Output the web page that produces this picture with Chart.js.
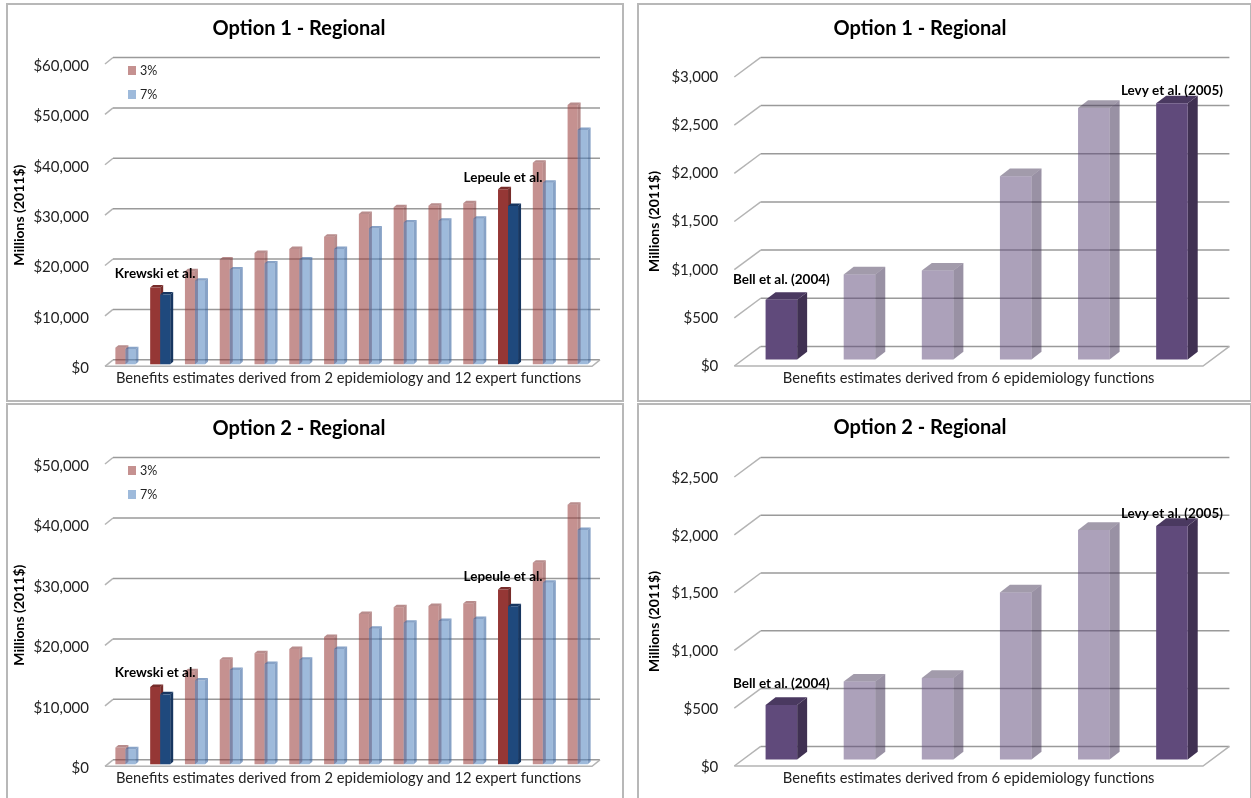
<!DOCTYPE html>
<html>
<head>
<meta charset="utf-8">
<title>Regional benefits estimates</title>
<script src="https://cdn.jsdelivr.net/npm/chart.js@4/dist/chart.umd.min.js"></script>
<style>
  html, body { margin: 0; padding: 0; background: #fff; overflow: hidden; }
  canvas { position: absolute; outline: 2px solid #b8b8b8; outline-offset: -2px; }
</style>
</head>
<body>
<canvas id="opt1Pm"></canvas>
<canvas id="opt1Ozone"></canvas>
<canvas id="opt2Pm"></canvas>
<canvas id="opt2Ozone"></canvas>
<script>
// 14 functions for the left charts, 6 for the right ones
const pmCategories = ["1", "2", "3", "4", "5", "6", "7", "8", "9", "10", "11", "12", "13", "14"];
const ozoneCategories = ["1", "2", "3", "4", "5", "6"];

const opt1Pm3 = [3300, 15240, 18490, 20800, 22100, 22900, 25300, 29820, 31150, 31480, 31950, 34730, 40000, 51490];
const opt1Pm7 = [3000, 13850, 16570, 18800, 20000, 20800, 22900, 26970, 28160, 28500, 28900, 31410, 36050, 46520];
const opt2Pm3 = [2770, 12790, 15390, 17280, 18380, 19050, 21040, 24860, 25970, 26190, 26580, 28900, 33340, 42910];
const opt2Pm7 = [2490, 11570, 13840, 15610, 16610, 17280, 19050, 22430, 23420, 23700, 24030, 26130, 30020, 38750];
const opt1Ozone = [619, 882, 923, 1902, 2611, 2659];
const opt2Ozone = [471, 674, 705, 1445, 1985, 2020];

// the functions that get a solid bar and a name above it
const pmCallouts = [[1, "Krewski et al."], [11, "Lepeule et al."]];
const ozoneCallouts = [[0, "Bell et al. (2004)"], [5, "Levy et al. (2005)"]];

const FONT = "Lato, 'Open Sans', sans-serif";

const redFaces = {
  solid: { front: "#953735", side: "#772c2a", top: "#772c2a" },
  soft: { front: "rgba(149,55,53,.55)", side: "rgba(125,45,45,.55)", top: "rgba(125,45,45,.55)" }
};
const blueFaces = {
  solid: { front: "#1f497d", side: "#173660", top: "#173660" },
  soft: { front: "rgba(79,129,189,.55)", side: "rgba(55,100,160,.6)", top: "rgba(55,100,160,.6)" }
};
const purpleFaces = {
  solid: { front: "#604a7b", side: "#403152", top: "#4a3960" },
  soft: { front: "rgba(96,74,123,.52)", side: "rgba(60,45,80,.52)", top: "rgba(60,45,80,.48)" }
};

function drawBarFaces(ctx, meta, faces, d, e) {
  meta.data.forEach((bar, i) => {
    const { x, y, base, width } = bar.getProps(["x", "y", "base", "width"], true);
    const l = x - width / 2;
    const r = x + width / 2;
    ctx.fillStyle = faces[i].side;
    ctx.beginPath();
    ctx.moveTo(r, y);
    ctx.lineTo(r + d, y - e);
    ctx.lineTo(r + d, base - e);
    ctx.lineTo(r, base);
    ctx.closePath();
    ctx.fill();
    ctx.fillStyle = faces[i].top;
    ctx.beginPath();
    ctx.moveTo(l, y);
    ctx.lineTo(l + d, y - e);
    ctx.lineTo(r + d, y - e);
    ctx.lineTo(r, y);
    ctx.closePath();
    ctx.fill();
  });
}

// Fakes the Excel style 3D look: back wall gridlines, floor, bar side and top faces
const depthPlugin = {
  id: "depth",
  beforeDatasetsDraw(chart, args, opts) {
    const { ctx, chartArea: a, scales: { y } } = chart;
    ctx.save();
    ctx.lineWidth = 1.5;
    y.ticks.forEach(t => {
      const py = y.getPixelForValue(t.value);
      ctx.strokeStyle = "#b4b4b4";
      ctx.beginPath();
      ctx.moveTo(a.left, py);
      ctx.lineTo(a.left + opts.wallX, py - opts.wallY);
      ctx.stroke();
      ctx.strokeStyle = "#9a9a9a";
      ctx.beginPath();
      ctx.moveTo(a.left + opts.wallX, py - opts.wallY);
      ctx.lineTo(a.right + opts.wallX, py - opts.wallY);
      ctx.stroke();
    });
    // front edge of the floor
    ctx.strokeStyle = "#b4b4b4";
    ctx.beginPath();
    ctx.moveTo(a.left, a.bottom);
    ctx.lineTo(a.right, a.bottom);
    ctx.lineTo(a.right + opts.wallX, a.bottom - opts.wallY);
    ctx.stroke();
    ctx.restore();

    // bars stand in the middle of the floor, not on its front edge.
    // Chart.js paints the last dataset first, here the right hand bar has to cover the left one
    ctx.save();
    ctx.translate(opts.shiftX, -opts.shiftY);
    chart.data.datasets.forEach((ds, i) => {
      const meta = chart.getDatasetMeta(i);
      drawBarFaces(ctx, meta, ds.faces, opts.barX, opts.barY);
      meta.controller.draw();
    });
    ctx.restore();
    return false;
  }
};

// Inline legend in the top left of the plot and the names above the solid bars
const notesPlugin = {
  id: "notes",
  afterDraw(chart, args, opts) {
    const { ctx, chartArea: a } = chart;
    ctx.save();
    ctx.textBaseline = "middle";
    if (opts.legend) {
      ctx.font = "12.5px " + FONT;
      chart.data.datasets.forEach((ds, i) => {
        const top = a.top + 2 + i * 24;
        ctx.fillStyle = ds.faces.find(f => f.front.startsWith("rgba")).front;
        ctx.fillRect(a.left + 23, top, 8, 9);
        ctx.fillStyle = "#222";
        ctx.textAlign = "left";
        ctx.fillText(ds.label, a.left + 35, top + 5);
      });
    }
    ctx.font = "bold 13.5px " + FONT;
    ctx.fillStyle = "#000";
    ctx.textAlign = "center";
    opts.callouts.forEach(([idx, text], n) => {
      const bar = chart.getDatasetMeta(0).data[idx];
      const { x, y, width } = bar.getProps(["x", "y", "width"], true);
      const groupX = chart.data.datasets.length > 1 ? x + width / 2 - 5 : x;
      ctx.fillText(text, groupX + opts.depth.shiftX, y - opts.depth.shiftY - opts.lifts[n]);
    });
    ctx.restore();
  }
};

function makeFaces(values, callouts, palette) {
  return values.map((v, i) => callouts.some(c => c[0] === i) ? palette.solid : palette.soft);
}

function makeDataset(label, values, callouts, palette) {
  const faces = makeFaces(values, callouts, palette);
  return { label, data: values, faces, backgroundColor: faces.map(f => f.front) };
}

function drawPanel(id, p) {
  const canvas = document.getElementById(id);
  canvas.style.left = p.x + "px";
  canvas.style.top = p.y + "px";
  canvas.width = p.w;
  canvas.height = p.h;

  const xTitleH = 15 + 5;
  new Chart(canvas, {
    type: "bar",
    data: { labels: p.categories, datasets: p.datasets },
    plugins: [depthPlugin, notesPlugin],
    options: {
      responsive: false,
      animation: false,
      layout: { padding: { left: 0, top: 0, right: p.x + p.w - p.right, bottom: p.y + p.h - p.bottom - xTitleH } },
      datasets: { bar: { categoryPercentage: p.barShare, barPercentage: 1 } },
      plugins: {
        legend: { display: false },
        tooltip: { enabled: false },
        title: {
          display: true,
          text: p.title,
          color: "#000",
          font: { family: FONT, size: 20, weight: "bold", lineHeight: 1 },
          padding: { top: p.titleTop, bottom: p.top - p.y - p.titleTop - 20 }
        },
        depth: p.depth,
        notes: { legend: p.datasets.length > 1, callouts: p.callouts, lifts: p.lifts, depth: p.depth }
      },
      scales: {
        x: {
          grid: { display: false, drawTicks: false },
          border: { display: false },
          ticks: { display: false },
          title: {
            display: true,
            text: p.xTitle,
            color: "#222",
            font: { family: FONT, size: 14.7, lineHeight: 1 },
            padding: { top: 5, bottom: 0 }
          }
        },
        y: {
          min: 0,
          max: p.max,
          afterFit(scale) { scale.width = p.left - p.x; },
          grid: { display: false, drawTicks: false },
          border: { display: false },
          ticks: {
            stepSize: p.step,
            padding: 16,
            labelOffset: p.tickDrop,
            color: "#222",
            font: { family: FONT, size: 15 },
            callback: v => "$" + v.toLocaleString("en-US")
          },
          title: {
            display: true,
            text: "Millions (2011$)",
            color: "#000",
            font: { family: FONT, size: 14, weight: "bold", lineHeight: 1 },
            padding: { top: p.yTitleInset, bottom: 0 }
          }
        }
      }
    }
  });
}

const pmDepth = { wallX: 8, wallY: 6.5, shiftX: 3, shiftY: 2, barX: 3, barY: 2.5 };
const ozoneDepth = { wallX: 26.4, wallY: 19.6, shiftX: 8, shiftY: 6.5, barX: 10, barY: 7.7 };
const pmXTitle = "Benefits estimates derived from 2 epidemiology and 12 expert functions";
const ozoneXTitle = "Benefits estimates derived from 6 epidemiology functions";

drawPanel("opt1Pm", {
  x: 6, y: 3, w: 618, h: 399, left: 105, right: 592, top: 64, bottom: 366,
  title: "Option 1 - Regional", titleTop: 16, xTitle: pmXTitle, yTitleInset: 6, tickDrop: 2,
  max: 60000, step: 10000, barShare: 0.576, depth: pmDepth,
  categories: pmCategories, callouts: pmCallouts, lifts: [14, 12],
  datasets: [makeDataset("3%", opt1Pm3, pmCallouts, redFaces), makeDataset("7%", opt1Pm7, pmCallouts, blueFaces)]
});
drawPanel("opt1Ozone", {
  x: 637, y: 3, w: 615, h: 399, left: 734.3, right: 1203, top: 77, bottom: 365.7,
  title: "Option 1 - Regional", titleTop: 16, xTitle: ozoneXTitle, yTitleInset: 10, tickDrop: 0,
  max: 3000, step: 500, barShare: 0.404, depth: ozoneDepth,
  categories: ozoneCategories, callouts: ozoneCallouts, lifts: [20, 13],
  datasets: [makeDataset("Benefits", opt1Ozone, ozoneCallouts, purpleFaces)]
});
drawPanel("opt2Pm", {
  x: 6, y: 403, w: 618, h: 400, left: 105, right: 592, top: 464, bottom: 766,
  title: "Option 2 - Regional", titleTop: 16, xTitle: pmXTitle, yTitleInset: 6, tickDrop: 2,
  max: 50000, step: 10000, barShare: 0.576, depth: pmDepth,
  categories: pmCategories, callouts: pmCallouts, lifts: [14, 13],
  datasets: [makeDataset("3%", opt2Pm3, pmCallouts, redFaces), makeDataset("7%", opt2Pm7, pmCallouts, blueFaces)]
});
drawPanel("opt2Ozone", {
  x: 637, y: 403, w: 615, h: 400, left: 734.3, right: 1203, top: 477, bottom: 765.7,
  title: "Option 2 - Regional", titleTop: 15, xTitle: ozoneXTitle, yTitleInset: 10, tickDrop: 1,
  max: 2500, step: 500, barShare: 0.404, depth: ozoneDepth,
  categories: ozoneCategories, callouts: ozoneCallouts, lifts: [21, 12],
  datasets: [makeDataset("Benefits", opt2Ozone, ozoneCallouts, purpleFaces)]
});
</script>
</body>
</html>
